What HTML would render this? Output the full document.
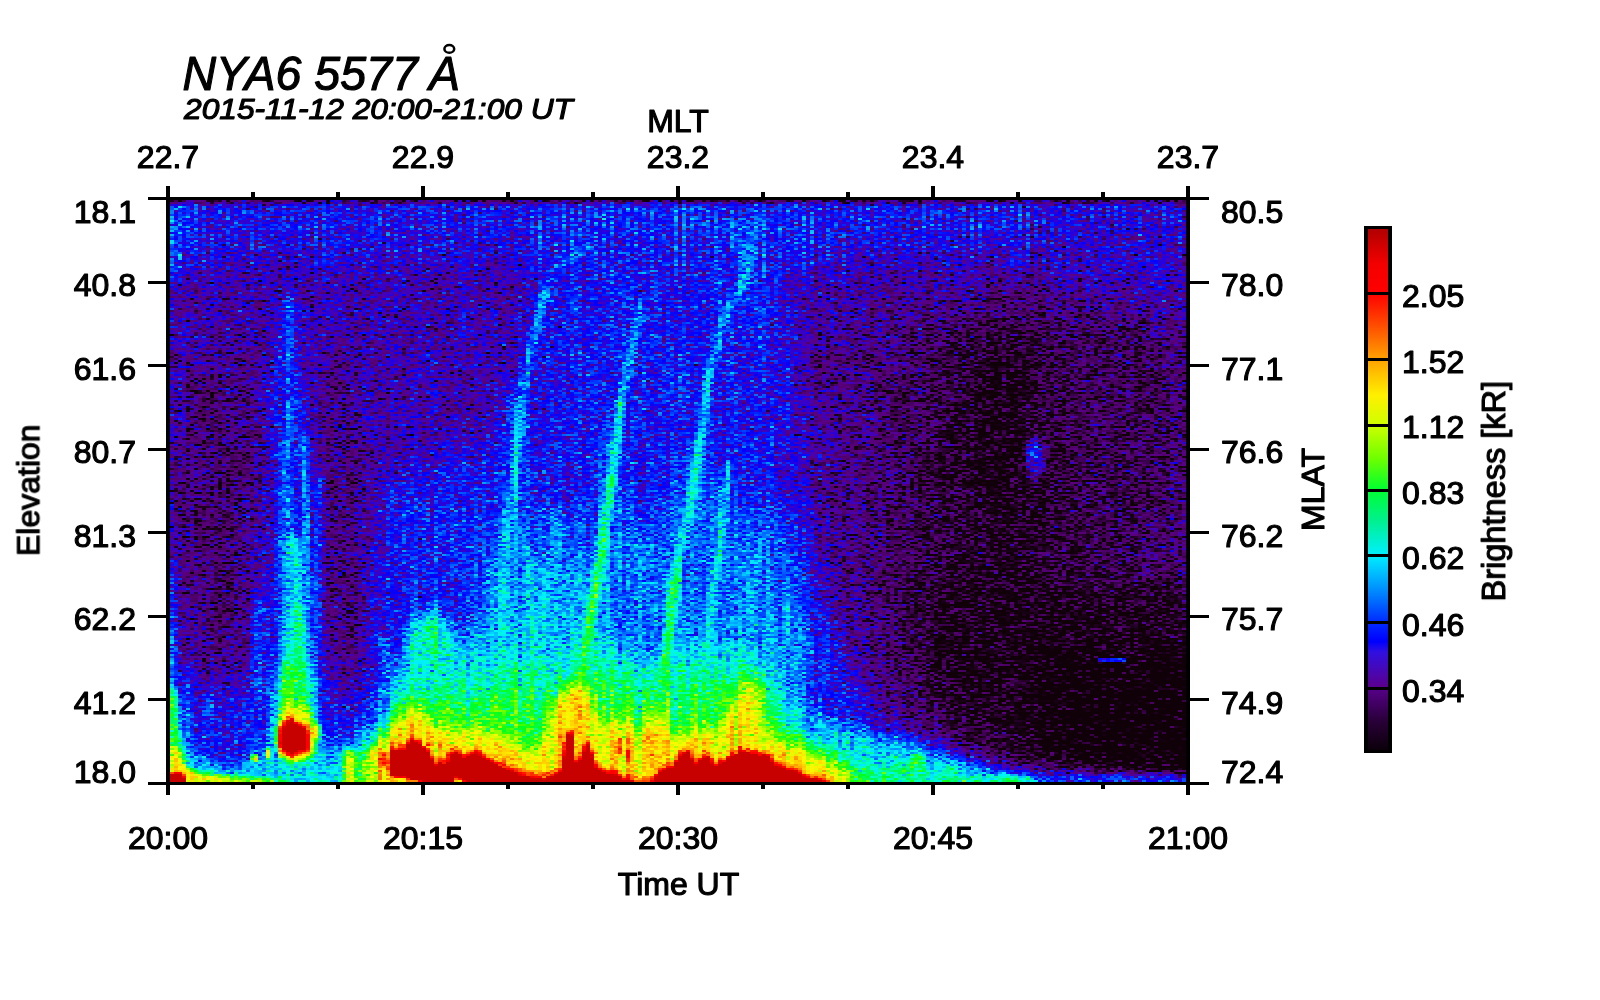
<!DOCTYPE html>
<html><head><meta charset="utf-8">
<style>
html,body{margin:0;padding:0;background:#fff;}
body{width:1600px;height:1000px;overflow:hidden;}
svg{display:block;}
text{font-family:"Liberation Sans",sans-serif;fill:#000;stroke:#000;stroke-width:1.15px;stroke-linejoin:round;}
</style></head><body>
<svg width="1600" height="1000" viewBox="0 0 1600 1000">
<defs>
<linearGradient id="cb" x1="0" y1="1" x2="0" y2="0">
<stop offset="0" stop-color="#0a0008"/>
<stop offset="0.06" stop-color="#2a003a"/>
<stop offset="0.125" stop-color="#5a0090"/>
<stop offset="0.19" stop-color="#3010e0"/>
<stop offset="0.21" stop-color="#0000ff"/>
<stop offset="0.25" stop-color="#0030ff"/>
<stop offset="0.31" stop-color="#0090ff"/>
<stop offset="0.375" stop-color="#00f0ff"/>
<stop offset="0.44" stop-color="#00f090"/>
<stop offset="0.50" stop-color="#00ff30"/>
<stop offset="0.56" stop-color="#70ff00"/>
<stop offset="0.625" stop-color="#d0ff00"/>
<stop offset="0.68" stop-color="#fff000"/>
<stop offset="0.75" stop-color="#ffa000"/>
<stop offset="0.81" stop-color="#ff5000"/>
<stop offset="0.875" stop-color="#ff0000"/>
<stop offset="0.93" stop-color="#f40000"/>
<stop offset="1" stop-color="#ae0000"/>
</linearGradient>
</defs>

<defs>
<filter id="b1_5" filterUnits="userSpaceOnUse" x="20" y="60" width="1320" height="880" color-interpolation-filters="sRGB"><feGaussianBlur stdDeviation="1.5"/></filter>
<filter id="b2_5" filterUnits="userSpaceOnUse" x="20" y="60" width="1320" height="880" color-interpolation-filters="sRGB"><feGaussianBlur stdDeviation="2.5"/></filter>
<filter id="b3" filterUnits="userSpaceOnUse" x="20" y="60" width="1320" height="880" color-interpolation-filters="sRGB"><feGaussianBlur stdDeviation="3"/></filter>
<filter id="b4" filterUnits="userSpaceOnUse" x="20" y="60" width="1320" height="880" color-interpolation-filters="sRGB"><feGaussianBlur stdDeviation="4"/></filter>
<filter id="b5" filterUnits="userSpaceOnUse" x="20" y="60" width="1320" height="880" color-interpolation-filters="sRGB"><feGaussianBlur stdDeviation="5"/></filter>
<filter id="b6" filterUnits="userSpaceOnUse" x="20" y="60" width="1320" height="880" color-interpolation-filters="sRGB"><feGaussianBlur stdDeviation="6"/></filter>
<filter id="b7" filterUnits="userSpaceOnUse" x="20" y="60" width="1320" height="880" color-interpolation-filters="sRGB"><feGaussianBlur stdDeviation="7"/></filter>
<filter id="b8" filterUnits="userSpaceOnUse" x="20" y="60" width="1320" height="880" color-interpolation-filters="sRGB"><feGaussianBlur stdDeviation="8"/></filter>
<filter id="b9" filterUnits="userSpaceOnUse" x="20" y="60" width="1320" height="880" color-interpolation-filters="sRGB"><feGaussianBlur stdDeviation="9"/></filter>
<filter id="b11" filterUnits="userSpaceOnUse" x="20" y="60" width="1320" height="880" color-interpolation-filters="sRGB"><feGaussianBlur stdDeviation="11"/></filter>
<filter id="b14" filterUnits="userSpaceOnUse" x="20" y="60" width="1320" height="880" color-interpolation-filters="sRGB"><feGaussianBlur stdDeviation="14"/></filter>
<filter id="b16" filterUnits="userSpaceOnUse" x="20" y="60" width="1320" height="880" color-interpolation-filters="sRGB"><feGaussianBlur stdDeviation="16"/></filter>
<filter id="b18" filterUnits="userSpaceOnUse" x="20" y="60" width="1320" height="880" color-interpolation-filters="sRGB"><feGaussianBlur stdDeviation="18"/></filter>
<filter id="b20" filterUnits="userSpaceOnUse" x="20" y="60" width="1320" height="880" color-interpolation-filters="sRGB"><feGaussianBlur stdDeviation="20"/></filter>
<filter id="b22" filterUnits="userSpaceOnUse" x="20" y="60" width="1320" height="880" color-interpolation-filters="sRGB"><feGaussianBlur stdDeviation="22"/></filter>
<filter id="b25" filterUnits="userSpaceOnUse" x="20" y="60" width="1320" height="880" color-interpolation-filters="sRGB"><feGaussianBlur stdDeviation="25"/></filter>
<filter id="b30" filterUnits="userSpaceOnUse" x="20" y="60" width="1320" height="880" color-interpolation-filters="sRGB"><feGaussianBlur stdDeviation="30"/></filter>
<filter id="b35" filterUnits="userSpaceOnUse" x="20" y="60" width="1320" height="880" color-interpolation-filters="sRGB"><feGaussianBlur stdDeviation="35"/></filter>
<filter id="b40" filterUnits="userSpaceOnUse" x="20" y="60" width="1320" height="880" color-interpolation-filters="sRGB"><feGaussianBlur stdDeviation="40"/></filter>
<filter id="cmap" filterUnits="userSpaceOnUse" x="170" y="200" width="1016" height="582" color-interpolation-filters="sRGB">
<feTurbulence type="fractalNoise" baseFrequency="0.37 0.61" numOctaves="2" seed="7" result="n1"/>
<feColorMatrix in="n1" type="matrix" values="1 0 0 0 0  1 0 0 0 0  1 0 0 0 0  0 0 0 0 1" result="g1"/>
<feTurbulence type="fractalNoise" baseFrequency="0.27 0.009" numOctaves="2" seed="3" result="n2"/>
<feColorMatrix in="n2" type="matrix" values="1 0 0 0 0  1 0 0 0 0  1 0 0 0 0  0 0 0 0 1" result="g2"/>
<feComposite in="SourceGraphic" in2="g2" operator="arithmetic" k1="0.5" k2="0.75" k3="0" k4="0" result="s1"/>
<feComposite in="s1" in2="g1" operator="arithmetic" k1="0" k2="1" k3="0.250" k4="-0.125" result="s2"/>
<feFlood x="171" y="200" width="1" height="1" flood-color="#fff" result="px"/>
<feOffset in="px" dx="0" dy="0" x="170" y="200" width="4" height="2" result="cell"/>
<feTile in="cell" result="grid"/>
<feComposite in="s2" in2="grid" operator="in" result="samp"/>
<feMorphology in="samp" operator="dilate" radius="1 0" result="d1"/>
<feOffset in="d1" dx="1" dy="0" result="d2"/>
<feMerge result="row"><feMergeNode in="d1"/><feMergeNode in="d2"/></feMerge>
<feOffset in="row" dx="0" dy="1" result="row2"/>
<feMerge result="pix"><feMergeNode in="row"/><feMergeNode in="row2"/></feMerge>
<feComponentTransfer in="pix">
<feFuncR type="table" tableValues="0.063 0.063 0.063 0.063 0.063 0.063 0.063 0.07 0.093 0.125 0.161 0.21 0.257 0.293 0.321 0.339 0.348 0.352 0.294 0.261 0.23 0.197 0.164 0.13 0.067 0 0 0 0 0 0 0 0 0 0 0 0 0 0 0 0 0 0 0 0 0 0 0 0 0 0 0 0 0 0 0 0.063 0.125 0.187 0.249 0.312 0.376 0.44 0.503 0.566 0.613 0.661 0.708 0.754 0.805 0.856 0.89 0.923 0.957 0.99 1 1 1 1 1 1 1 1 1 1 1 1 1 1 1 1 1 1 1 1 1 1 1 1 1 1 1 1 1 1 1 1 1 1 1 1 1 0.99 0.97 0.951 0.932 0.913 0.894 0.876 0.858 0.84 0.822 0.805 0.787 0.784 0.784 0.784 0.784 0.784 0.784 0.784 0.784 0.784 0.784 0.784 0.784 0.784 0.784 0.784 0.784 0.784 0.784 0.784 0.784 0.784 0.784 0.784 0.784 0.784 0.784 0.784 0.784 0.784 0.784 0.784 0.784 0.784 0.784 0.784 0.784 0.784"/>
<feFuncG type="table" tableValues="0 0 0 0 0 0 0 0 0 0 0 0 0 0 0 0 0 0 0 0 0 0 0 0 0 0 0.058 0.115 0.17 0.227 0.285 0.343 0.401 0.458 0.524 0.592 0.66 0.726 0.773 0.819 0.866 0.912 0.948 0.966 0.984 0.999 0.992 0.985 0.978 0.974 0.981 0.987 0.993 0.999 1 1 1 1 1 1 1 1 1 1 1 1 1 1 1 1 0.998 0.992 0.986 0.98 0.974 0.955 0.931 0.906 0.881 0.857 0.827 0.795 0.762 0.73 0.698 0.66 0.62 0.575 0.53 0.485 0.44 0.396 0.355 0.313 0.272 0.231 0.19 0.16 0.13 0.101 0.071 0.042 0.022 0.007 0 0 0 0 0 0 0 0 0 0 0 0 0 0 0 0 0 0 0 0 0 0 0 0 0 0 0 0 0 0 0 0 0 0 0 0 0 0 0 0 0 0 0 0 0 0 0 0 0 0 0 0 0 0 0 0 0"/>
<feFuncB type="table" tableValues="0.031 0.031 0.031 0.031 0.031 0.031 0.031 0.044 0.081 0.129 0.183 0.27 0.352 0.392 0.428 0.459 0.495 0.536 0.68 0.729 0.77 0.814 0.859 0.904 0.952 1 1 1 1 1 1 1 1 1 1 1 1 1 1 1 1 1 0.975 0.908 0.842 0.776 0.71 0.645 0.58 0.516 0.451 0.386 0.322 0.258 0.192 0.126 0.098 0.07 0.042 0.015 0 0 0 0 0 0 0 0 0 0 0 0 0 0 0 0 0 0 0 0 0 0 0 0 0 0 0 0 0 0 0 0 0 0 0 0 0 0 0 0 0 0 0 0 0 0 0 0 0 0 0 0 0 0 0 0 0 0 0 0 0 0 0 0 0 0 0 0 0 0 0 0 0 0 0 0 0 0 0 0 0 0 0 0 0 0 0 0 0 0 0 0 0 0 0 0 0 0 0 0 0"/>
</feComponentTransfer>
</filter>
<linearGradient id="sfw" x1="0" y1="0" x2="0" y2="1"><stop offset="0" stop-color="#fff" stop-opacity="0.02"/><stop offset="0.6" stop-color="#fff" stop-opacity="0.016"/><stop offset="1" stop-color="#fff" stop-opacity="0"/></linearGradient><linearGradient id="sfb" x1="0" y1="0" x2="0" y2="1"><stop offset="0" stop-color="#000" stop-opacity="0.12"/><stop offset="0.6" stop-color="#000" stop-opacity="0.09"/><stop offset="1" stop-color="#000" stop-opacity="0"/></linearGradient><pattern id="stripe" patternUnits="userSpaceOnUse" x="170" y="200" width="8" height="90"><rect x="0" y="0" width="4" height="90" fill="url(#sfw)"/><rect x="4" y="0" width="4" height="90" fill="url(#sfb)"/></pattern>
<clipPath id="pc"><rect x="170" y="200" width="1016" height="582"/></clipPath>
</defs>
<g clip-path="url(#pc)"><g filter="url(#cmap)">
<rect x="160" y="190" width="1040" height="610" fill="rgb(30,30,30)" opacity="1"/>
<rect x="150" y="170" width="1060" height="88" fill="rgb(39,39,39)" filter="url(#b14)" opacity="1"/>
<ellipse cx="176" cy="235" rx="14" ry="45" fill="rgb(50,50,50)" filter="url(#b9)" opacity="1"/>
<ellipse cx="680" cy="235" rx="150" ry="45" fill="rgb(47,47,47)" filter="url(#b25)" opacity="1"/>
<polygon points="1040,200 1200,200 1200,340 1100,325 1040,275" fill="rgb(35,35,35)" filter="url(#b20)" opacity="1"/>
<polygon points="590,235 790,235 795,450 818,600 868,680 930,728 1010,764 1186,778 1186,820 480,820 495,600 510,500 522,400 540,300" fill="rgb(40,40,40)" filter="url(#b16)" opacity="1"/>
<polygon points="380,480 520,440 500,820 368,820 370,620" fill="rgb(41,41,41)" filter="url(#b20)" opacity="1"/>
<polygon points="493,520 790,520 800,600 825,670 780,720 480,720" fill="rgb(53,53,53)" filter="url(#b22)" opacity="1"/>
<polygon points="490,570 600,570 600,720 478,720" fill="rgb(60,60,60)" filter="url(#b14)" opacity="1"/>
<polygon points="690,610 790,610 810,680 780,720 690,720" fill="rgb(56,56,56)" filter="url(#b14)" opacity="1"/>
<rect x="150" y="690" width="240" height="130" fill="rgb(39,39,39)" filter="url(#b14)" opacity="1"/>
<polygon points="170,560 175,560 177,700 186,800 160,800" fill="rgb(56,56,56)" filter="url(#b3)" opacity="1"/>
<polyline points="187,666 187,733" fill="none" stroke="rgb(56,56,56)" stroke-width="5" stroke-linecap="round" stroke-linejoin="round" filter="url(#b2_5)" opacity="1" style="mix-blend-mode:lighten"/>
<polyline points="207,695 207,714" fill="none" stroke="rgb(59,59,59)" stroke-width="6" stroke-linecap="round" stroke-linejoin="round" filter="url(#b2_5)" opacity="1" style="mix-blend-mode:lighten"/>
<polygon points="281,296 294,296 312,450 326,600 334,800 246,800 248,600 262,450" fill="rgb(43,43,43)" filter="url(#b8)" opacity="1"/>
<ellipse cx="343" cy="520" rx="22" ry="175" fill="rgb(23,23,23)" filter="url(#b11)" opacity="1"/>
<ellipse cx="222" cy="505" rx="42" ry="165" fill="rgb(21,21,21)" filter="url(#b25)" opacity="1"/>
<polygon points="840,320 1200,320 1200,800 1000,790 900,730 850,640" fill="rgb(23,23,23)" filter="url(#b30)" opacity="1"/>
<ellipse cx="1000" cy="520" rx="80" ry="200" fill="rgb(15,15,15)" filter="url(#b40)" opacity="1"/>
<ellipse cx="1006" cy="430" rx="45" ry="95" fill="rgb(11,11,11)" filter="url(#b30)" opacity="1"/>
<ellipse cx="1120" cy="430" rx="60" ry="120" fill="rgb(19,19,19)" filter="url(#b35)" opacity="1"/>
<polygon points="920,580 1200,580 1200,770 1060,766 985,745 930,712" fill="rgb(11,11,11)" filter="url(#b18)" opacity="1"/>
<polygon points="1040,655 1200,655 1200,772 1100,768 1040,750" fill="rgb(5,5,5)" filter="url(#b9)" opacity="1"/>
<ellipse cx="828" cy="370" rx="14" ry="25" fill="rgb(22,22,22)" filter="url(#b14)" opacity="1"/>
<rect x="170" y="200" width="1016" height="90" fill="url(#stripe)"/>
<rect x="165" y="198" width="1030" height="5" fill="rgb(20,20,20)" filter="url(#b1_5)" opacity="1"/>
<polygon points="170,740 215,768 249,765 279,729 310,729 330,752 372,728 395,670 415,625 445,615 470,650 495,610 530,620 560,640 600,630 640,660 680,640 720,640 760,650 780,680 800,700 820,716 840,726 860,732 880,736 900,740 919,744 938,752 957,758 976,763 995,769 1014,773 1033,776 1052,778.6 1186,781 1186,820 170,820" fill="rgb(65,65,65)" filter="url(#b9)" opacity="1"/>
<ellipse cx="428" cy="640" rx="16" ry="30" fill="rgb(78,78,78)" filter="url(#b9)" opacity="1"/>
<rect x="1040" y="776" width="160" height="10" fill="rgb(41,41,41)" filter="url(#b2_5)" opacity="1"/>
<polygon points="395,720 410,690 440,670 470,690 495,660 530,665 560,670 600,650 640,680 680,665 720,665 756,668 775,700 790,740 790,820 395,820" fill="rgb(78,78,78)" filter="url(#b11)" opacity="1"/>
<polygon points="345,775 352,750 372,760 385,735 400,705 430,695 470,705 500,690 540,700 580,690 600,675 640,700 680,690 720,685 756,682 768,690 772,710 780,730 800,740 820,752 840,760 860,768 880,774 900,778 1033,783 1033,820 345,820" fill="rgb(88,88,88)" filter="url(#b7)" opacity="1"/>
<polyline points="612,440 600,560 588,640" fill="none" stroke="rgb(50,50,50)" stroke-width="26" stroke-linecap="round" stroke-linejoin="round" filter="url(#b9)" opacity="1" style="mix-blend-mode:lighten"/>
<polyline points="697,450 682,560 668,640" fill="none" stroke="rgb(50,50,50)" stroke-width="26" stroke-linecap="round" stroke-linejoin="round" filter="url(#b9)" opacity="1" style="mix-blend-mode:lighten"/>
<polyline points="724,480 714,600" fill="none" stroke="rgb(50,50,50)" stroke-width="18" stroke-linecap="round" stroke-linejoin="round" filter="url(#b8)" opacity="1" style="mix-blend-mode:lighten"/>
<polyline points="519,400 509,512 503,600" fill="none" stroke="rgb(48,48,48)" stroke-width="24" stroke-linecap="round" stroke-linejoin="round" filter="url(#b9)" opacity="1" style="mix-blend-mode:lighten"/>
<polyline points="588,247 570,253.5 552,271.5 545,292" fill="none" stroke="rgb(52,52,52)" stroke-width="9" stroke-linecap="round" stroke-linejoin="round" filter="url(#b4)" opacity="1" style="mix-blend-mode:lighten"/>
<polyline points="545,292 538.5,312 534,334.5 528.4,357 524,382 520,411" fill="none" stroke="rgb(58,58,58)" stroke-width="9" stroke-linecap="round" stroke-linejoin="round" filter="url(#b2_5)" opacity="1" style="mix-blend-mode:lighten"/>
<polyline points="520,411 517,445 514,479 509,512 505,546 502.5,580 500,625 498,700" fill="none" stroke="rgb(64,64,64)" stroke-width="9" stroke-linecap="round" stroke-linejoin="round" filter="url(#b2_5)" opacity="1" style="mix-blend-mode:lighten"/>
<polyline points="511,540 512,600 512,720" fill="none" stroke="rgb(59,59,59)" stroke-width="30" stroke-linecap="round" stroke-linejoin="round" filter="url(#b9)" opacity="1" style="mix-blend-mode:lighten"/>
<polyline points="554,512 554,625 552,700" fill="none" stroke="rgb(59,59,59)" stroke-width="5" stroke-linecap="round" stroke-linejoin="round" filter="url(#b2_5)" opacity="1" style="mix-blend-mode:lighten"/>
<polyline points="640,303 637.5,321 633,341 629.6,352.5 628.5,370.5 624,386 619.5,402" fill="none" stroke="rgb(59,59,59)" stroke-width="8" stroke-linecap="round" stroke-linejoin="round" filter="url(#b2_5)" opacity="1" style="mix-blend-mode:lighten"/>
<polyline points="619.5,402 615,445 610.5,479" fill="none" stroke="rgb(74,74,74)" stroke-width="8" stroke-linecap="round" stroke-linejoin="round" filter="url(#b2_5)" opacity="1" style="mix-blend-mode:lighten"/>
<polyline points="610.5,479 606,512.5 602.6,546 597,580 592.5,602.5 588,625 583,665 574,720" fill="none" stroke="rgb(88,88,88)" stroke-width="8" stroke-linecap="round" stroke-linejoin="round" filter="url(#b2_5)" opacity="1" style="mix-blend-mode:lighten"/>
<polyline points="757,217.5 752,249 748,269 741,285 732,301 723,316.5 718.5,334.5 712,361.5 707,386 703,411 700.5,434" fill="none" stroke="rgb(60,60,60)" stroke-width="9" stroke-linecap="round" stroke-linejoin="round" filter="url(#b2_5)" opacity="1" style="mix-blend-mode:lighten"/>
<ellipse cx="742" cy="240" rx="19" ry="24" fill="rgb(48,48,48)" filter="url(#b9)" opacity="1"/>
<polyline points="700.5,434 696,467.5 691.5,490 687,512.5" fill="none" stroke="rgb(69,69,69)" stroke-width="9" stroke-linecap="round" stroke-linejoin="round" filter="url(#b2_5)" opacity="1" style="mix-blend-mode:lighten"/>
<polyline points="687,512.5 683.6,535 679,557.5 674.6,580" fill="none" stroke="rgb(72,72,72)" stroke-width="8" stroke-linecap="round" stroke-linejoin="round" filter="url(#b2_5)" opacity="1" style="mix-blend-mode:lighten"/>
<polyline points="674.6,580 671,602.5 669,625 664,665 656,710" fill="none" stroke="rgb(83,83,83)" stroke-width="9" stroke-linecap="round" stroke-linejoin="round" filter="url(#b2_5)" opacity="1" style="mix-blend-mode:lighten"/>
<polyline points="727.5,463 725,490 722,512.5" fill="none" stroke="rgb(62,62,62)" stroke-width="7" stroke-linecap="round" stroke-linejoin="round" filter="url(#b2_5)" opacity="1" style="mix-blend-mode:lighten"/>
<polyline points="722,512.5 720.8,535 717.4,557.5 714,580 711.8,602.5 709.5,625 706,665 700,710" fill="none" stroke="rgb(73,73,73)" stroke-width="6.5" stroke-linecap="round" stroke-linejoin="round" filter="url(#b2_5)" opacity="1" style="mix-blend-mode:lighten"/>
<polyline points="288,298 288.5,400" fill="none" stroke="rgb(50,50,50)" stroke-width="7" stroke-linecap="round" stroke-linejoin="round" filter="url(#b2_5)" opacity="1" style="mix-blend-mode:lighten"/>
<polyline points="288.5,400 289,440" fill="none" stroke="rgb(55,55,55)" stroke-width="7" stroke-linecap="round" stroke-linejoin="round" filter="url(#b2_5)" opacity="1" style="mix-blend-mode:lighten"/>
<polyline points="293,545 295,620 295,720" fill="none" stroke="rgb(65,65,65)" stroke-width="24" stroke-linecap="round" stroke-linejoin="round" filter="url(#b6)" opacity="1" style="mix-blend-mode:lighten"/>
<polyline points="296,610 296,720" fill="none" stroke="rgb(79,79,79)" stroke-width="12" stroke-linecap="round" stroke-linejoin="round" filter="url(#b4)" opacity="1" style="mix-blend-mode:lighten"/>
<polyline points="259,600 260,695" fill="none" stroke="rgb(50,50,50)" stroke-width="9" stroke-linecap="round" stroke-linejoin="round" filter="url(#b4)" opacity="1" style="mix-blend-mode:lighten"/>
<polyline points="318,480 318,560 316,640 312,700" fill="none" stroke="rgb(51,51,51)" stroke-width="5" stroke-linecap="round" stroke-linejoin="round" filter="url(#b2_5)" opacity="1" style="mix-blend-mode:lighten"/>
<polyline points="303,440 306,520 307,600" fill="none" stroke="rgb(56,56,56)" stroke-width="7" stroke-linecap="round" stroke-linejoin="round" filter="url(#b2_5)" opacity="1" style="mix-blend-mode:lighten"/>
<polyline points="284,440 285,520 286,600" fill="none" stroke="rgb(59,59,59)" stroke-width="6" stroke-linecap="round" stroke-linejoin="round" filter="url(#b2_5)" opacity="1" style="mix-blend-mode:lighten"/>
<ellipse cx="1036" cy="458" rx="8" ry="22" fill="rgb(39,39,39)" filter="url(#b4)" opacity="1"/>
<ellipse cx="1033" cy="449" rx="4" ry="11" fill="rgb(51,51,51)" filter="url(#b2_5)" opacity="1"/>
<rect x="1096" y="658" width="30" height="3" fill="rgb(41,41,41)" opacity="1"/>
<polyline points="383.5,638 383.5,695" fill="none" stroke="rgb(68,68,68)" stroke-width="5" stroke-linecap="round" stroke-linejoin="round" filter="url(#b2_5)" opacity="1" style="mix-blend-mode:lighten"/>
<polygon points="370,747 382,730 390,724 406,710 414,700 426,710 436,722 450,724 466,720 474,718 482,724 498,730 514,740 530,744 540,738 550,714 554,694 562,690 570,676 580,684 588,676 596,704 606,716 616,710 628,720 640,724 650,716 658,704 666,724 678,728 690,724 700,724 716,722 726,708 736,698 740,690 748,676 756,670 760,694 766,720 772,732 784,738 800,740 812,744 824,752 836,760 846,764 846,820 370,820" fill="rgb(101,101,101)" filter="url(#b8)" opacity="1"/>
<polygon points="370,757 382,740 390,734 406,720 414,710 426,720 436,732 450,734 466,730 474,728 482,734 498,740 514,750 530,754 540,748 550,724 554,704 562,700 570,686 580,694 588,686 596,714 606,726 616,720 628,730 640,734 650,726 658,714 666,734 678,738 690,734 700,734 716,732 726,718 736,708 740,700 748,686 756,680 760,704 766,730 772,742 784,748 800,750 812,754 824,762 836,770 846,774 846,820 370,820" fill="rgb(122,122,122)" filter="url(#b5)" opacity="1"/>
<polygon points="389,748.5 390,746.5 402,746.5 407,740.5 413,734.5 420,740.5 425,744.5 430,754.5 436,760.5 448,758.5 449,748.5 458,748.5 464,754.5 474,746.5 479,750.5 490,756.5 500,762.5 510,766.5 522,770.5 534,772.5 542,774.5 550,772.5 562,766.5 567,728.5 572,728.5 574,758.5 582,754.5 586,736.5 590,744.5 594,762.5 602,766.5 616,770.5 630,776.5 650,778.5 660,766.5 672,762.5 682,748.5 688,746.5 694,762.5 700,754.5 708,752.5 714,762.5 720,758.5 730,752.5 740,746.5 750,748.5 760,750.5 766,748.5 772,758.5 784,764.5 796,766.5 804,772.5 818,774.5 830,778.5 836,781.5 496,781.5 490,777.5 474,777.5 462,774.5 454,770.5 452,778.5 436,778.5 430,776.5 422,776.5 410,774.5 404,770.5 396,772.5 389,768.5" fill="rgb(162,162,162)" filter="url(#b2_5)" opacity="1"/>
<polygon points="389,753.5 390,751.5 402,751.5 407,745.5 413,739.5 420,745.5 425,749.5 430,759.5 436,765.5 448,763.5 449,753.5 458,753.5 464,759.5 474,751.5 479,755.5 490,761.5 500,767.5 510,771.5 522,775.5 534,777.5 542,779.5 550,777.5 562,771.5 567,733.5 572,733.5 574,763.5 582,759.5 586,741.5 590,749.5 594,767.5 602,771.5 616,775.5 630,781.5 650,783.5 660,771.5 672,767.5 682,753.5 688,751.5 694,767.5 700,759.5 708,757.5 714,767.5 720,763.5 730,757.5 740,751.5 750,753.5 760,755.5 766,753.5 772,763.5 784,769.5 796,771.5 804,777.5 818,779.5 830,783.5 836,786.5 496,786.5 490,782.5 474,782.5 462,779.5 454,775.5 452,783.5 436,783.5 430,781.5 422,781.5 410,779.5 404,775.5 396,777.5 389,773.5" fill="rgb(255,255,255)" filter="url(#b1_5)" opacity="1"/>
<ellipse cx="383" cy="759" rx="2.5" ry="9" fill="rgb(183,183,183)" filter="url(#b1_5)" opacity="1"/>
<ellipse cx="620" cy="746" rx="3" ry="10" fill="rgb(171,171,171)" filter="url(#b1_5)" opacity="1"/>
<ellipse cx="628" cy="754" rx="2.5" ry="5" fill="rgb(159,159,159)" filter="url(#b1_5)" opacity="1"/>
<polygon points="389,776 410,780 450,783 389,783" fill="rgb(122,122,122)" filter="url(#b1_5)" opacity="1"/>
<rect x="344" y="750" width="10" height="35" fill="rgb(114,114,114)" filter="url(#b2_5)" opacity="1"/>
<ellipse cx="374" cy="754" rx="4" ry="8" fill="rgb(131,131,131)" filter="url(#b2_5)" opacity="1"/>
<ellipse cx="294" cy="700" rx="17" ry="45" fill="rgb(88,88,88)" filter="url(#b7)" opacity="1"/>
<ellipse cx="296" cy="733" rx="20" ry="30" fill="rgb(114,114,114)" filter="url(#b4)" opacity="1"/>
<ellipse cx="313" cy="731" rx="6" ry="8" fill="rgb(122,122,122)" filter="url(#b2_5)" opacity="1"/>
<polygon points="277,742 279,727 285,720 291,715.5 297,720 301,724 306,722 309.5,740 309,754 300,752.5 293,758.5 287,754.5 281,754" fill="rgb(171,171,171)" filter="url(#b2_5)" opacity="1"/>
<polygon points="281,742 283,730 287,724.5 291,721 296,724.5 301,728.5 304,727 305.5,740 305,749.5 300,747.5 293,753.5 287,749.5 284.5,749.5" fill="rgb(255,255,255)" filter="url(#b1_5)" opacity="1"/>
<ellipse cx="254" cy="758" rx="2" ry="4" fill="rgb(159,159,159)" filter="url(#b1_5)" opacity="1"/>
<ellipse cx="267.6" cy="753" rx="2.5" ry="5" fill="rgb(127,127,127)" filter="url(#b1_5)" opacity="1"/>
<polygon points="170,690 176,690 180,740 184,762 170,770" fill="rgb(88,88,88)" filter="url(#b2_5)" opacity="1"/>
<polygon points="170,745 178,750 183,766 200,773 250,778 300,783 170,783" fill="rgb(122,122,122)" filter="url(#b2_5)" opacity="1"/>
<polygon points="170,773 180,773 184,778 186,783 170,783" fill="rgb(255,255,255)" filter="url(#b1_5)" opacity="1"/>
<ellipse cx="916" cy="762" rx="6" ry="9" fill="rgb(95,95,95)" filter="url(#b3)" opacity="1"/>
<ellipse cx="900" cy="772" rx="25" ry="7" fill="rgb(79,79,79)" filter="url(#b4)" opacity="1"/>
<ellipse cx="951" cy="770" rx="5" ry="6" fill="rgb(88,88,88)" filter="url(#b3)" opacity="1"/>
<ellipse cx="1010" cy="779" rx="22" ry="3" fill="rgb(83,83,83)" filter="url(#b2_5)" opacity="1"/>
</g></g>
<g fill="#000" shape-rendering="crispEdges">
<rect x="166" y="197" width="4" height="588"/>
<rect x="1186" y="197" width="4" height="588"/>
<rect x="148" y="197" width="1061" height="3"/>
<rect x="148" y="782" width="1061" height="3"/>
<rect x="166" y="186" width="4" height="11"/>
<rect x="166" y="785" width="4" height="10"/>
<rect x="251" y="192" width="4" height="5"/>
<rect x="251" y="785" width="4" height="4"/>
<rect x="336" y="192" width="4" height="5"/>
<rect x="336" y="785" width="4" height="4"/>
<rect x="421" y="186" width="4" height="11"/>
<rect x="421" y="785" width="4" height="10"/>
<rect x="506" y="192" width="4" height="5"/>
<rect x="506" y="785" width="4" height="4"/>
<rect x="591" y="192" width="4" height="5"/>
<rect x="591" y="785" width="4" height="4"/>
<rect x="676" y="186" width="4" height="11"/>
<rect x="676" y="785" width="4" height="10"/>
<rect x="761" y="192" width="4" height="5"/>
<rect x="761" y="785" width="4" height="4"/>
<rect x="846" y="192" width="4" height="5"/>
<rect x="846" y="785" width="4" height="4"/>
<rect x="931" y="186" width="4" height="11"/>
<rect x="931" y="785" width="4" height="10"/>
<rect x="1016" y="192" width="4" height="5"/>
<rect x="1016" y="785" width="4" height="4"/>
<rect x="1101" y="192" width="4" height="5"/>
<rect x="1101" y="785" width="4" height="4"/>
<rect x="1186" y="186" width="4" height="11"/>
<rect x="1186" y="785" width="4" height="10"/>
<rect x="148" y="281" width="18" height="3"/>
<rect x="1190" y="281" width="19" height="3"/>
<rect x="148" y="364" width="18" height="3"/>
<rect x="1190" y="364" width="19" height="3"/>
<rect x="148" y="448" width="18" height="3"/>
<rect x="1190" y="448" width="19" height="3"/>
<rect x="148" y="531" width="18" height="3"/>
<rect x="1190" y="531" width="19" height="3"/>
<rect x="148" y="615" width="18" height="3"/>
<rect x="1190" y="615" width="19" height="3"/>
<rect x="148" y="698" width="18" height="3"/>
<rect x="1190" y="698" width="19" height="3"/>
</g>
<rect x="1366" y="227.5" width="24.5" height="524" fill="url(#cb)"/>
<g fill="#000" shape-rendering="crispEdges">
<rect x="1364" y="226" width="4" height="527"/>
<rect x="1388" y="226" width="4" height="527"/>
<rect x="1364" y="226" width="28" height="3"/>
<rect x="1364" y="750" width="28" height="3"/>
<rect x="1364" y="292" width="28" height="3"/>
<rect x="1364" y="358" width="28" height="3"/>
<rect x="1364" y="424" width="28" height="3"/>
<rect x="1364" y="489" width="28" height="3"/>
<rect x="1364" y="554" width="28" height="3"/>
<rect x="1364" y="621" width="28" height="3"/>
<rect x="1364" y="687" width="28" height="3"/>
</g>
<g opacity="0.999">
<text x="182.5" y="89.5" font-size="47.5" text-anchor="start" font-style="italic" textLength="277.5"  lengthAdjust="spacingAndGlyphs">NYA6 5577 A</text>
<ellipse cx="449.3" cy="48.9" rx="4.9" ry="3.8" fill="none" stroke="#000" stroke-width="2.5"/>
<text x="184" y="119.3" font-size="29.5" text-anchor="start" font-style="italic" textLength="389" lengthAdjust="spacingAndGlyphs">2015-11-12 20:00-21:00 UT</text>
<text x="678" y="132" font-size="32" text-anchor="middle" >MLT</text>
<text x="168" y="167.5" font-size="32" text-anchor="middle" >22.7</text>
<text x="423" y="167.5" font-size="32" text-anchor="middle" >22.9</text>
<text x="678" y="167.5" font-size="32" text-anchor="middle" >23.2</text>
<text x="933" y="167.5" font-size="32" text-anchor="middle" >23.4</text>
<text x="1188" y="167.5" font-size="32" text-anchor="middle" >23.7</text>
<text x="168" y="849" font-size="32" text-anchor="middle" >20:00</text>
<text x="423" y="849" font-size="32" text-anchor="middle" >20:15</text>
<text x="678" y="849" font-size="32" text-anchor="middle" >20:30</text>
<text x="933" y="849" font-size="32" text-anchor="middle" >20:45</text>
<text x="1188" y="849" font-size="32" text-anchor="middle" >21:00</text>
<text x="678.5" y="895" font-size="32" text-anchor="middle" >Time UT</text>
<text x="136" y="223" font-size="32" text-anchor="end" >18.1</text>
<text x="136" y="296" font-size="32" text-anchor="end" >40.8</text>
<text x="136" y="379.5" font-size="32" text-anchor="end" >61.6</text>
<text x="136" y="463" font-size="32" text-anchor="end" >80.7</text>
<text x="136" y="546.5" font-size="32" text-anchor="end" >81.3</text>
<text x="136" y="630" font-size="32" text-anchor="end" >62.2</text>
<text x="136" y="713.5" font-size="32" text-anchor="end" >41.2</text>
<text x="136" y="783" font-size="32" text-anchor="end" >18.0</text>
<text x="1221" y="223" font-size="32" text-anchor="start" >80.5</text>
<text x="1221" y="296" font-size="32" text-anchor="start" >78.0</text>
<text x="1221" y="379.5" font-size="32" text-anchor="start" >77.1</text>
<text x="1221" y="463" font-size="32" text-anchor="start" >76.6</text>
<text x="1221" y="546.5" font-size="32" text-anchor="start" >76.2</text>
<text x="1221" y="630" font-size="32" text-anchor="start" >75.7</text>
<text x="1221" y="713.5" font-size="32" text-anchor="start" >74.9</text>
<text x="1221" y="783" font-size="32" text-anchor="start" >72.4</text>
<text x="1402" y="306.7" font-size="32" text-anchor="start" >2.05</text>
<text x="1402" y="372.6" font-size="32" text-anchor="start" >1.52</text>
<text x="1402" y="438.3" font-size="32" text-anchor="start" >1.12</text>
<text x="1402" y="503.90000000000003" font-size="32" text-anchor="start" >0.83</text>
<text x="1402" y="568.9" font-size="32" text-anchor="start" >0.62</text>
<text x="1402" y="635.5999999999999" font-size="32" text-anchor="start" >0.46</text>
<text x="1402" y="701.9" font-size="32" text-anchor="start" >0.34</text>
<text transform="translate(39.3,490.3) rotate(-90)" font-size="32" text-anchor="middle">Elevation</text>
<text transform="translate(1323.6,489.5) rotate(-90)" font-size="32" text-anchor="middle">MLAT</text>
<text transform="translate(1505,491.2) rotate(-90)" font-size="32.5" text-anchor="middle">Brightness [kR]</text>
</g>
</svg>
</body></html>
